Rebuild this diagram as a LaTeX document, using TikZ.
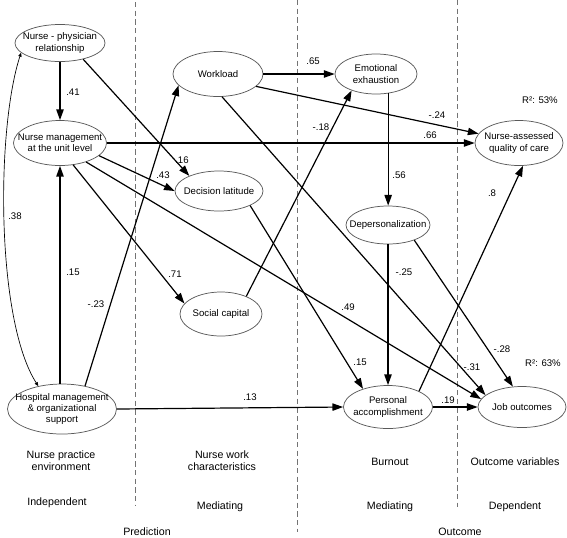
\documentclass[tikz,border=0pt]{standalone}
\usepackage{fontspec}
\setmainfont{Liberation Sans}
\usetikzlibrary{arrows.meta,calc,shapes.geometric}

\begin{document}
\begin{tikzpicture}[x=0.75pt,y=-0.75pt,
  var/.style 2 args={ellipse,draw=black!65,line width=0.55pt,align=center,inner xsep=-7pt,inner ysep=0pt,minimum width=#1,minimum height=#2,font=\fontsize{7.2}{8.4}\selectfont},
  eff/.style={-{Triangle[length=8pt,width=5.5pt]},line width=0.9pt},
  cov/.style={{Triangle[length=3pt,width=2.5pt]}-{Triangle[length=3pt,width=2.5pt]},line width=0.5pt},
  coef/.style={font=\fontsize{7.2}{8.4}\selectfont,inner sep=0pt},
  lvl/.style={font=\fontsize{8}{9}\selectfont,align=center,inner sep=0pt},
  divider/.style={draw=black!55,dash pattern=on 4pt off 2.5pt,line width=0.6pt}]
\useasboundingbox (0,0) rectangle (567,537);

\draw[divider] (135,2) -- (135,505);
\draw[divider] (297,0) -- (297,532);
\draw[divider] (457,0) -- (457,507);

\node[var={67.5pt}{27.75pt}] (NP) at (60,43) {Nurse - physician\\relationship};
\node[var={69.75pt}{33.75pt}] (NM) at (60,143) {Nurse management\\at the unit level};
\node[var={81.75pt}{37.5pt}] (HM) at (62,409) {Hospital management\\\& organizational\\support};
\node[var={67.5pt}{33.75pt}] (WL) at (218,74) {Workload};
\node[var={66pt}{30pt}] (DL) at (219,191) {Decision latitude};
\node[var={61.5pt}{33pt}] (SC) at (221,314) {Social capital};
\node[var={61.5pt}{30pt}] (EE) at (376,74) {Emotional\\exhaustion};
\node[var={63pt}{28.5pt}] (DP) at (388,225) {Depersonalization};
\node[var={66.75pt}{32.25pt}] (PA) at (388,407) {Personal\\accomplishment};
\node[var={66pt}{33.75pt}] (QC) at (519,143) {Nurse-assessed\\quality of care};
\node[var={66pt}{30.75pt}] (JO) at (522,407) {Job outcomes};

\draw[eff] (NP.south) -- (NM.north);
\draw[eff] (NP.-35) -- (DL.153);
\draw[eff] (NM.-18) -- (DL.west);
\draw[eff] (NM.east) -- (QC.west);
\draw[eff] (NM.-59) -- (SC.164);
\draw[eff] (NM.-36) -- (JO.169);
\draw[eff] (HM.north -| NM.south) -- (NM.south);
\draw[eff] (HM.45) -- (WL.196);
\draw[cov] (NP.194) .. controls (-4,130) and (-4,320) .. (HM.136);
\draw[eff] (HM.east) -- (PA.west);
\draw[eff] (WL.east) -- (EE.west);
\draw[eff] (WL.-18) -- (QC.167);
\draw[eff] (WL.-80) -- (JO.162);
\draw[eff] (DL.-25) -- (PA.144);
\draw[eff] (SC.35) -- (EE.214);
\draw[eff] (EE.-58) -- (EE.-58 |- DP.north);
\draw[eff] (DP.south) -- (PA.north);
\draw[eff] (DP.-30) -- (JO.114);
\draw[eff] (PA.27) -- (QC.-80);
\draw[eff] (PA.east) -- (JO.west);

\node[coef] (c41) at (73,92) {.41};
\node[coef] (c16) at (182,160) {.16};
\node[coef] (c43) at (163,175) {.43};
\node[coef] (c38) at (15,216) {.38};
\node[coef] (c15a) at (73,272) {.15};
\node[coef] (c23) at (96,304) {-.23};
\node[coef] (c71) at (175,274) {.71};
\node[coef] (c13) at (250,397) {.13};
\node[coef] (c65) at (313,61) {.65};
\node[coef] (c18) at (321,127) {-.18};
\node[coef] (c24) at (437,115) {-.24};
\node[coef] (c66) at (430,135) {.66};
\node[coef] (c56) at (399,175) {.56};
\node[coef] (c8) at (492,193) {.8};
\node[coef] (c25) at (404,272) {-.25};
\node[coef] (c49) at (348,307) {.49};
\node[coef] (c15b) at (360,362) {.15};
\node[coef] (c28) at (502,349) {-.28};
\node[coef] (c31) at (472,367) {-.31};
\node[coef] (c19) at (448,400) {.19};
\node[coef] (r53) at (540,100) {R²: 53\%};
\node[coef] (r63) at (543,363) {R²: 63\%};

\node[lvl] (npe) at (61,461) {Nurse practice\\environment};
\node[lvl] (nwc) at (222,461) {Nurse work\\characteristics};
\node[lvl] (bo) at (390,462) {Burnout};
\node[lvl] (ov) at (515,462) {Outcome variables};
\node[lvl] (ind) at (57,503) {Independent};
\node[lvl] (med1) at (220,507) {Mediating};
\node[lvl] (med2) at (390,507) {Mediating};
\node[lvl] (dep) at (515,507) {Dependent};
\node[lvl] (pred) at (147,532) {Prediction};
\node[lvl] (outc) at (460,532) {Outcome};
\end{tikzpicture}
\end{document}
